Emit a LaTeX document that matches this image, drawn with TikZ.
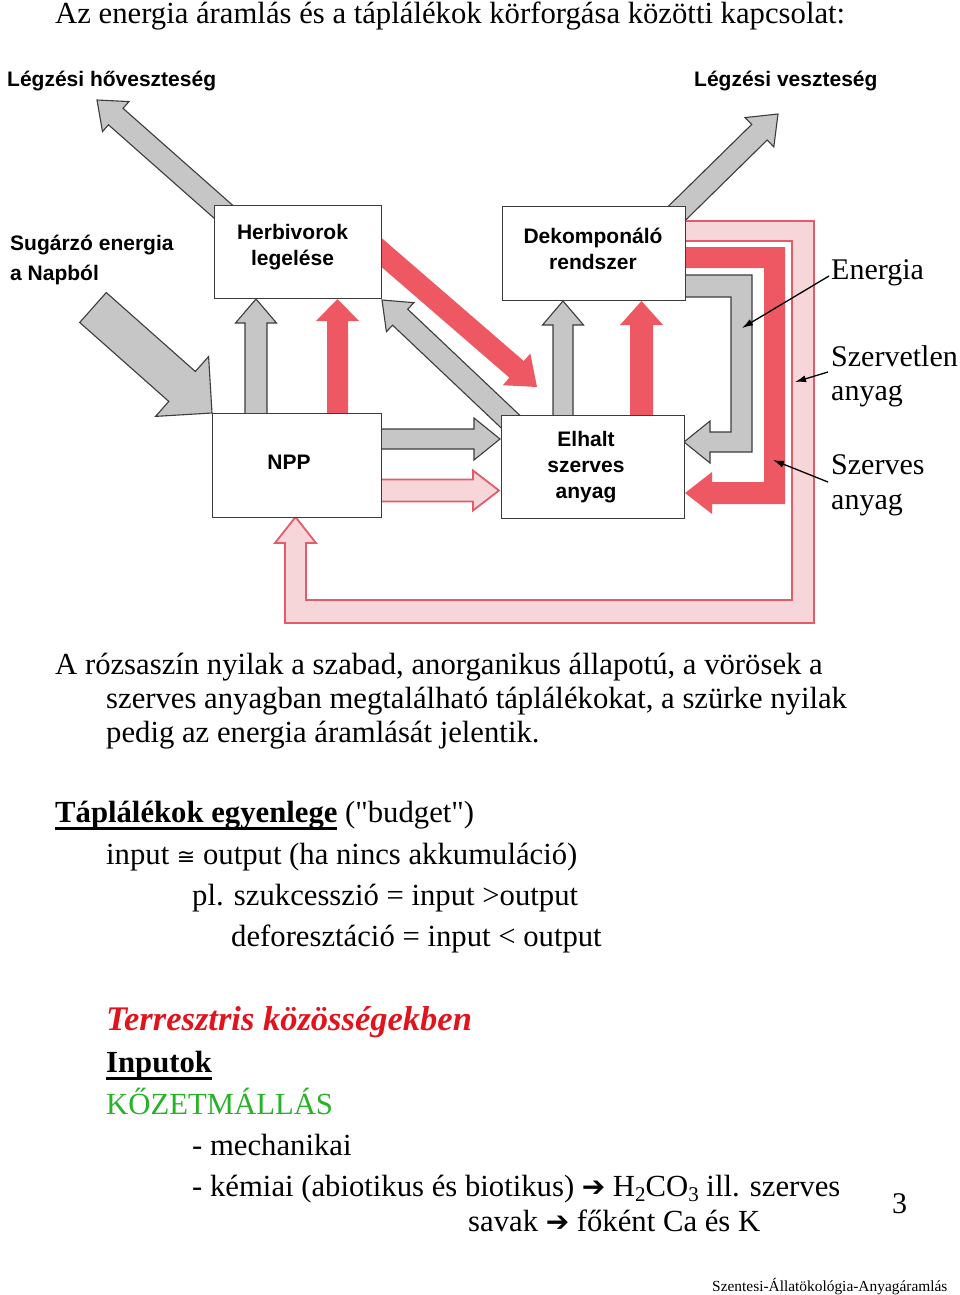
\documentclass[tikz,border=0pt]{standalone}
\usepackage{fontspec}
\setmainfont{Liberation Serif}
\newfontfamily\arial{Liberation Sans}
\newfontfamily\djv{DejaVu Sans}
\usetikzlibrary{calc,arrows.meta}
\definecolor{arrgray}{RGB}{198,198,198}
\definecolor{outl}{RGB}{60,60,60}
\definecolor{arrred}{RGB}{238,88,98}
\definecolor{arrpink}{RGB}{247,214,218}
\definecolor{pinkline}{RGB}{226,92,106}
\definecolor{titlered}{RGB}{225,20,30}
\definecolor{rockgreen}{RGB}{40,178,40}
\newcommand\fatarrow[6]{%
  \coordinate (fa-h) at ($(#3)!#6!(#2)$);
  \path[#1] ($(#2)!#4!90:(#3)$) -- ($(fa-h)!#4!90:(#3)$) -- ($(fa-h)!#5!90:(#3)$) -- (#3)
    -- ($(fa-h)!#5!-90:(#3)$) -- ($(fa-h)!#4!-90:(#3)$) -- ($(#2)!#4!-90:(#3)$) -- cycle;}
\newcommand\thickul[1]{\setbox0\hbox{#1}\rlap{\rule[-7.5pt]{\wd0}{2.4pt}}\box0\relax}
\newcommand\lowsub[1]{\smash{\raisebox{-5pt}{\fontsize{21}{21}\selectfont #1}}}
\newcommand\bigarr{{\djv\fontsize{28}{28}\selectfont ➔}}
\tikzset{
  grayarrow/.style={fill=arrgray, draw=outl, line width=1.1pt, line join=miter},
  redarrow/.style={fill=arrred},
  pinkarrow/.style={fill=arrpink, draw=pinkline, line width=1.8pt, line join=miter},
  boxnode/.style={draw=outl, fill=white, line width=1pt, inner sep=0pt},
  boxtxt/.style={font=\arial\bfseries\fontsize{21}{26}\selectfont, align=center, inner sep=0pt},
  sanslbl/.style={font=\arial\bfseries\fontsize{21}{30}\selectfont, anchor=base west, inner sep=0pt},
  lbl/.style={font=\fontsize{30}{34.5}\selectfont, anchor=base west, inner sep=0pt},
  txt/.style={font=\fontsize{30.7}{34.5}\selectfont, anchor=base west, inner sep=0pt},
  ptr/.style={line width=1.3pt, -{Latex[length=11pt,width=7pt]}}
}
\begin{document}
\begin{tikzpicture}[x=1pt,y=-1pt]
\useasboundingbox (0,0) rectangle (960,1295);
\fill[white] (0,0) rectangle (960,1295);

% ---------- title ----------
\node[txt] (title) at (55,24) {Az energia áramlás és a táplálékok körforgása közötti kapcsolat:};

% ---------- arrow end coordinates ----------
\coordinate (sunT) at (93,307.5);   \coordinate (sunH) at (212,413);
\coordinate (lhT) at (235,222);     \coordinate (lhH) at (97,100);
\coordinate (lvT) at (668,222);     \coordinate (lvH) at (778,114);
\coordinate (ngT) at (256,422);     \coordinate (ngH) at (256,299);
\coordinate (nrT) at (337.5,422);   \coordinate (nrH) at (337.5,299);
\coordinate (egT) at (513,424);     \coordinate (egH) at (382,300);
\coordinate (hrT) at (370,242.5);   \coordinate (hrH) at (537,387);
\coordinate (dgT) at (563,424);     \coordinate (dgH) at (563,301);
\coordinate (drT) at (641.5,424);   \coordinate (drH) at (641.5,301);
\coordinate (xgT) at (372,439);     \coordinate (xgH) at (500,439);
\coordinate (xpT) at (372,490.5);   \coordinate (xpH) at (499,490.5);

% ---------- straight fat arrows ----------
\fatarrow{grayarrow}{sunT}{sunH}{20pt}{40pt}{40pt}
\fatarrow{grayarrow}{lhT}{lhH}{11pt}{20pt}{25pt}
\fatarrow{grayarrow}{lvT}{lvH}{11pt}{20.5pt}{26pt}
\fatarrow{grayarrow}{ngT}{ngH}{11pt}{20.5pt}{24pt}
\fatarrow{redarrow}{nrT}{nrH}{10.5pt}{21.5pt}{22pt}
\fatarrow{grayarrow}{egT}{egH}{11pt}{20pt}{25pt}
\fatarrow{redarrow}{hrT}{hrH}{11pt}{21pt}{27pt}
\fatarrow{grayarrow}{dgT}{dgH}{10pt}{20.5pt}{24pt}
\fatarrow{redarrow}{drT}{drH}{11.5pt}{21.5pt}{24pt}
\fatarrow{grayarrow}{xgT}{xgH}{10pt}{21pt}{26pt}
\fatarrow{pinkarrow}{xpT}{xpH}{11pt}{20pt}{26pt}

% ---------- L-shaped / loop arrows ----------
\path[pinkarrow] (680,221) -- (814,221) -- (814,623) -- (285,623) -- (285,543) -- (275,543)
  -- (295.5,517) -- (316,543) -- (306,543) -- (306,600) -- (792,600) -- (792,241) -- (680,241) -- cycle;
\path[redarrow] (680,247) -- (785,247) -- (785,504) -- (712,504) -- (712,514) -- (685,493)
  -- (712,472) -- (712,482) -- (764,482) -- (764,268) -- (680,268) -- cycle;
\path[grayarrow] (680,275) -- (752,275) -- (752,452) -- (710,452) -- (710,463) -- (684,442)
  -- (710,421) -- (710,432) -- (731,432) -- (731,297) -- (680,297) -- cycle;

% ---------- boxes ----------
\node[boxnode, minimum width=167pt, minimum height=93pt] (herb) at (297.5,251.5) {};
\node[boxnode, minimum width=183pt, minimum height=94pt] (dek) at (593.5,253) {};
\node[boxnode, minimum width=169pt, minimum height=104pt] (npp) at (296.5,465) {};
\node[boxnode, minimum width=183pt, minimum height=103pt] (elh) at (592.5,466.5) {};
\node[boxtxt] (herbt) at (292.5,247) {Herbivorok\\legelése};
\node[boxtxt] (dekt) at (593,249) {Dekomponáló\\rendszer};
\node[boxtxt] (nppt) at (289,462) {NPP};
\node[boxtxt] (elht) at (586,467) {Elhalt\\szerves\\anyag};

% ---------- diagram labels ----------
\node[sanslbl] (lh) at (7,87) {Légzési hőveszteség};
\node[sanslbl] (lv) at (694,87) {Légzési veszteség};
\node[sanslbl] (sun1) at (10,250) {Sugárzó energia};
\node[sanslbl] (sun2) at (10,280) {a Napból};

\node[lbl] (en) at (831,279) {Energia};
\node[lbl] (szt1) at (831,366) {Szervetlen};
\node[lbl] (szt2) at (831,400) {anyag};
\node[lbl] (sz1) at (831,474) {Szerves};
\node[lbl] (sz2) at (831,509) {anyag};
\coordinate (enP) at (742,328);
\coordinate (sztP) at (795,382);
\coordinate (szP) at (773,460);
\draw[ptr] ($(en.base west)+(-2,-3)$) -- (enP);
\draw[ptr] ($(szt1.base west)+(-3,6)$) -- (sztP);
\draw[ptr] ($(sz1.base west)+(-3,8)$) -- (szP);

% ---------- text below ----------
\node[txt] (p1) at (55,674) {A rózsaszín nyilak a szabad, anorganikus állapotú, a vörösek a};
\node[txt] (p2) at (106,708) {szerves anyagban megtalálható táplálékokat, a szürke nyilak};
\node[txt] (p3) at (106,742) {pedig az energia áramlását jelentik.};

\node[txt] (b1) at (55,822) {\thickul{\textbf{Táplálékok egyenlege}} (\textquotedbl budget\textquotedbl)};
\node[txt] (b2) at (106,864) {input {\djv\fontsize{22}{22}\selectfont ≅} output (ha nincs akkumuláció)};
\node[txt] (b3) at (192,905) {pl. szukcesszió = input >output};
\node[txt] (b4) at (231,946) {deforesztáció = input < output};

\node[txt, font=\fontsize{34.5}{38}\selectfont, text=titlered] (t1) at (106,1030) {\textbf{\textit{Terresztris közösségekben}}};
\node[txt] (t2) at (106,1072) {\thickul{\textbf{Inputok}}};
\node[txt, text=rockgreen] (t3) at (106,1114) {KŐZETMÁLLÁS};
\node[txt] (t4) at (192,1155) {- mechanikai};
\node[txt] (t5) at (192,1196) {- kémiai (abiotikus és biotikus) \bigarr{} H\lowsub{2}CO\lowsub{3} ill. szerves};
\node[txt] (t6) at (468,1231) {savak \bigarr{} főként Ca és K};
\node[lbl] (pg) at (892,1213) {3};
\node[txt, font=\fontsize{15.4}{18}\selectfont] (foot) at (712,1291) {Szentesi-Állatökológia-Anyagáramlás};
\end{tikzpicture}
\end{document}
